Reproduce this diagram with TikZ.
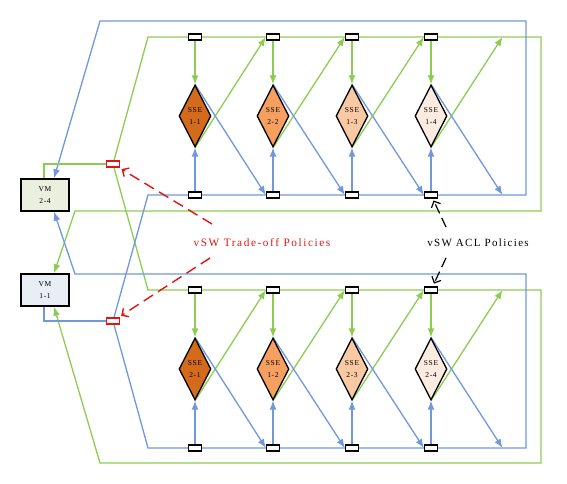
\documentclass[tikz,border=0pt]{standalone}
\usepackage{fontspec}
\setmainfont{Liberation Serif}
\newfontfamily\lblfont[LetterSpace=12]{Liberation Serif}
\newfontfamily\redfont[LetterSpace=14]{Liberation Serif}
\newfontfamily\smfont[LetterSpace=10]{Liberation Serif}
\usetikzlibrary{shapes.geometric,arrows.meta}
\pgfdeclarelayer{background}
\pgfsetlayers{background,main}
\definecolor{lblue}{RGB}{112,152,218}
\definecolor{lgreen}{RGB}{141,204,82}
\definecolor{sseA}{RGB}{212,106,28}
\definecolor{sseB}{RGB}{245,160,96}
\definecolor{sseC}{RGB}{249,201,164}
\definecolor{sseD}{RGB}{252,235,224}
\definecolor{vmgreen}{RGB}{235,239,222}
\definecolor{vmblue}{RGB}{233,237,244}
\definecolor{tred}{RGB}{228,20,20}
\begin{document}
\begin{tikzpicture}[x=1pt,y=-1pt,
  port/.style={draw=black, fill=white, line width=1.3pt, minimum width=13pt, minimum height=6pt, inner sep=0pt},
  tradeport/.style={port, draw=tred},
  sse/.style={diamond, draw=black, line width=1.3pt, minimum width=32pt, minimum height=62pt, inner sep=0pt, shape aspect=0.5, align=center, font=\smfont\fontsize{7.5}{11.5}\selectfont},
  vm/.style={draw=black, line width=1.5pt, minimum width=48pt, minimum height=32pt, inner sep=0pt, align=center, font=\smfont\fontsize{7.5}{11.5}\selectfont},
  gline/.style={lgreen, line width=1.3pt},
  bline/.style={lblue, line width=1.3pt},
  arr/.style={-{Latex[length=9pt,width=7pt]}},
  reddash/.style={tred, line width=1.4pt, dash pattern=on 11pt off 6pt, -{Straight Barb[length=5pt,width=10pt]}},
  blackdash/.style={black, line width=1.2pt, dash pattern=on 10pt off 5pt, -{Straight Barb[length=5pt,width=10pt]}},
  lbl/.style={font=\lblfont\fontsize{11}{13}\selectfont, inner sep=0pt},
  redlbl/.style={font=\redfont\fontsize{11.3}{13}\selectfont, inner sep=0pt, text=tred}
]
\useasboundingbox (0,0) rectangle (567,484);

% VM boxes and trade-off ports
\node[vm, fill=vmgreen] (vm24) at (45,195) {VM\\2-4};
\node[vm, fill=vmblue] (vm11) at (45,290) {VM\\1-1};
\node[tradeport] (red1) at (113,164) {};
\node[tradeport] (red2) at (113,321) {};

% SSE groups
\foreach \g/\dy/\la/\lb/\lc/\ld in {1/0/1-1/2-2/1-3/1-4, 2/253/2-1/1-2/2-3/2-4}{
  \foreach \c/\x/\fc/\lab in {1/195/sseA/\la, 2/273/sseB/\lb, 3/352/sseC/\lc, 4/431/sseD/\ld}{
    \node[port] (t\g c\c) at (\x,37+\dy) {};
    \node[port] (b\g c\c) at (\x,195+\dy) {};
    \node[sse, fill=\fc] (d\g c\c) at (\x,116+\dy) {SSE\\\lab};
  }
  \coordinate (tend\g) at (502.5,37+\dy);
  \coordinate (bend\g) at (502.5,195+\dy);
}

\begin{pgfonlayer}{background}
\foreach \g in {1,2}{
  \foreach \c in {1,2,3,4}{
    \draw[gline,arr] (t\g c\c) -- (d\g c\c);
    \draw[bline,arr] (b\g c\c) -- (d\g c\c);
  }
  \foreach \c/\n in {1/2,2/3,3/4}{
    \draw[gline,arr] (d\g c\c.south) -- (t\g c\n.west);
    \draw[bline,arr] (d\g c\c.north) -- (b\g c\n.west);
  }
  \draw[gline,arr] (d\g c4.south) -- (tend\g);
  \draw[bline,arr] (d\g c4.north) -- (bend\g);
}

% loop corners
\coordinate (g1a) at (148,37);  \coordinate (g1b) at (541,37);
\coordinate (g1c) at (541,211); \coordinate (g1d) at (75,211);
\coordinate (b1a) at (148,195); \coordinate (b1b) at (526,195);
\coordinate (b1c) at (526,21);  \coordinate (b1d) at (100,21);
\coordinate (g2a) at (148,290); \coordinate (g2b) at (541,290);
\coordinate (g2c) at (541,463); \coordinate (g2d) at (100,463);
\coordinate (b2a) at (148,448); \coordinate (b2b) at (526,448);
\coordinate (b2c) at (526,274); \coordinate (b2d) at (75,274);

\draw[gline,arr] (red1) -- (g1a) -- (g1b) -- (g1c) -- (g1d) -- ([xshift=9pt]vm11.north);
\draw[gline,arr] (red1) -- (g2a) -- (g2b) -- (g2c) -- (g2d) -- ([xshift=9pt]vm11.south);
\draw[bline,arr] (red2) -- (b1a) -- (b1b) -- (b1c) -- (b1d) -- ([xshift=9pt]vm24.north);
\draw[bline,arr] (red2) -- (b2a) -- (b2b) -- (b2c) -- (b2d) -- ([xshift=9pt]vm24.south);

\draw[gline] ([xshift=-1pt]vm24.north) |- (red1);
\draw[bline] ([xshift=-1pt]vm11.south) |- (red2);
\end{pgfonlayer}

% labels
\node[redlbl] (trade) at (262,243) {vSW Trade-off Policies};
\node[lbl] (acl) at (478,243) {vSW ACL Policies};
\coordinate (rt1) at (212,224);
\coordinate (rt2) at (210,258);
\coordinate (at1) at (446,227);
\coordinate (at2) at (446,258);
\draw[reddash, shorten >=3pt] (rt1) -- (red1);
\draw[reddash, shorten >=3pt] (rt2) -- (red2);
\draw[blackdash, shorten >=2pt] (at1) -- (b1c4);
\draw[blackdash, shorten >=3pt] (at2) -- (t2c4);
\end{tikzpicture}
\end{document}
